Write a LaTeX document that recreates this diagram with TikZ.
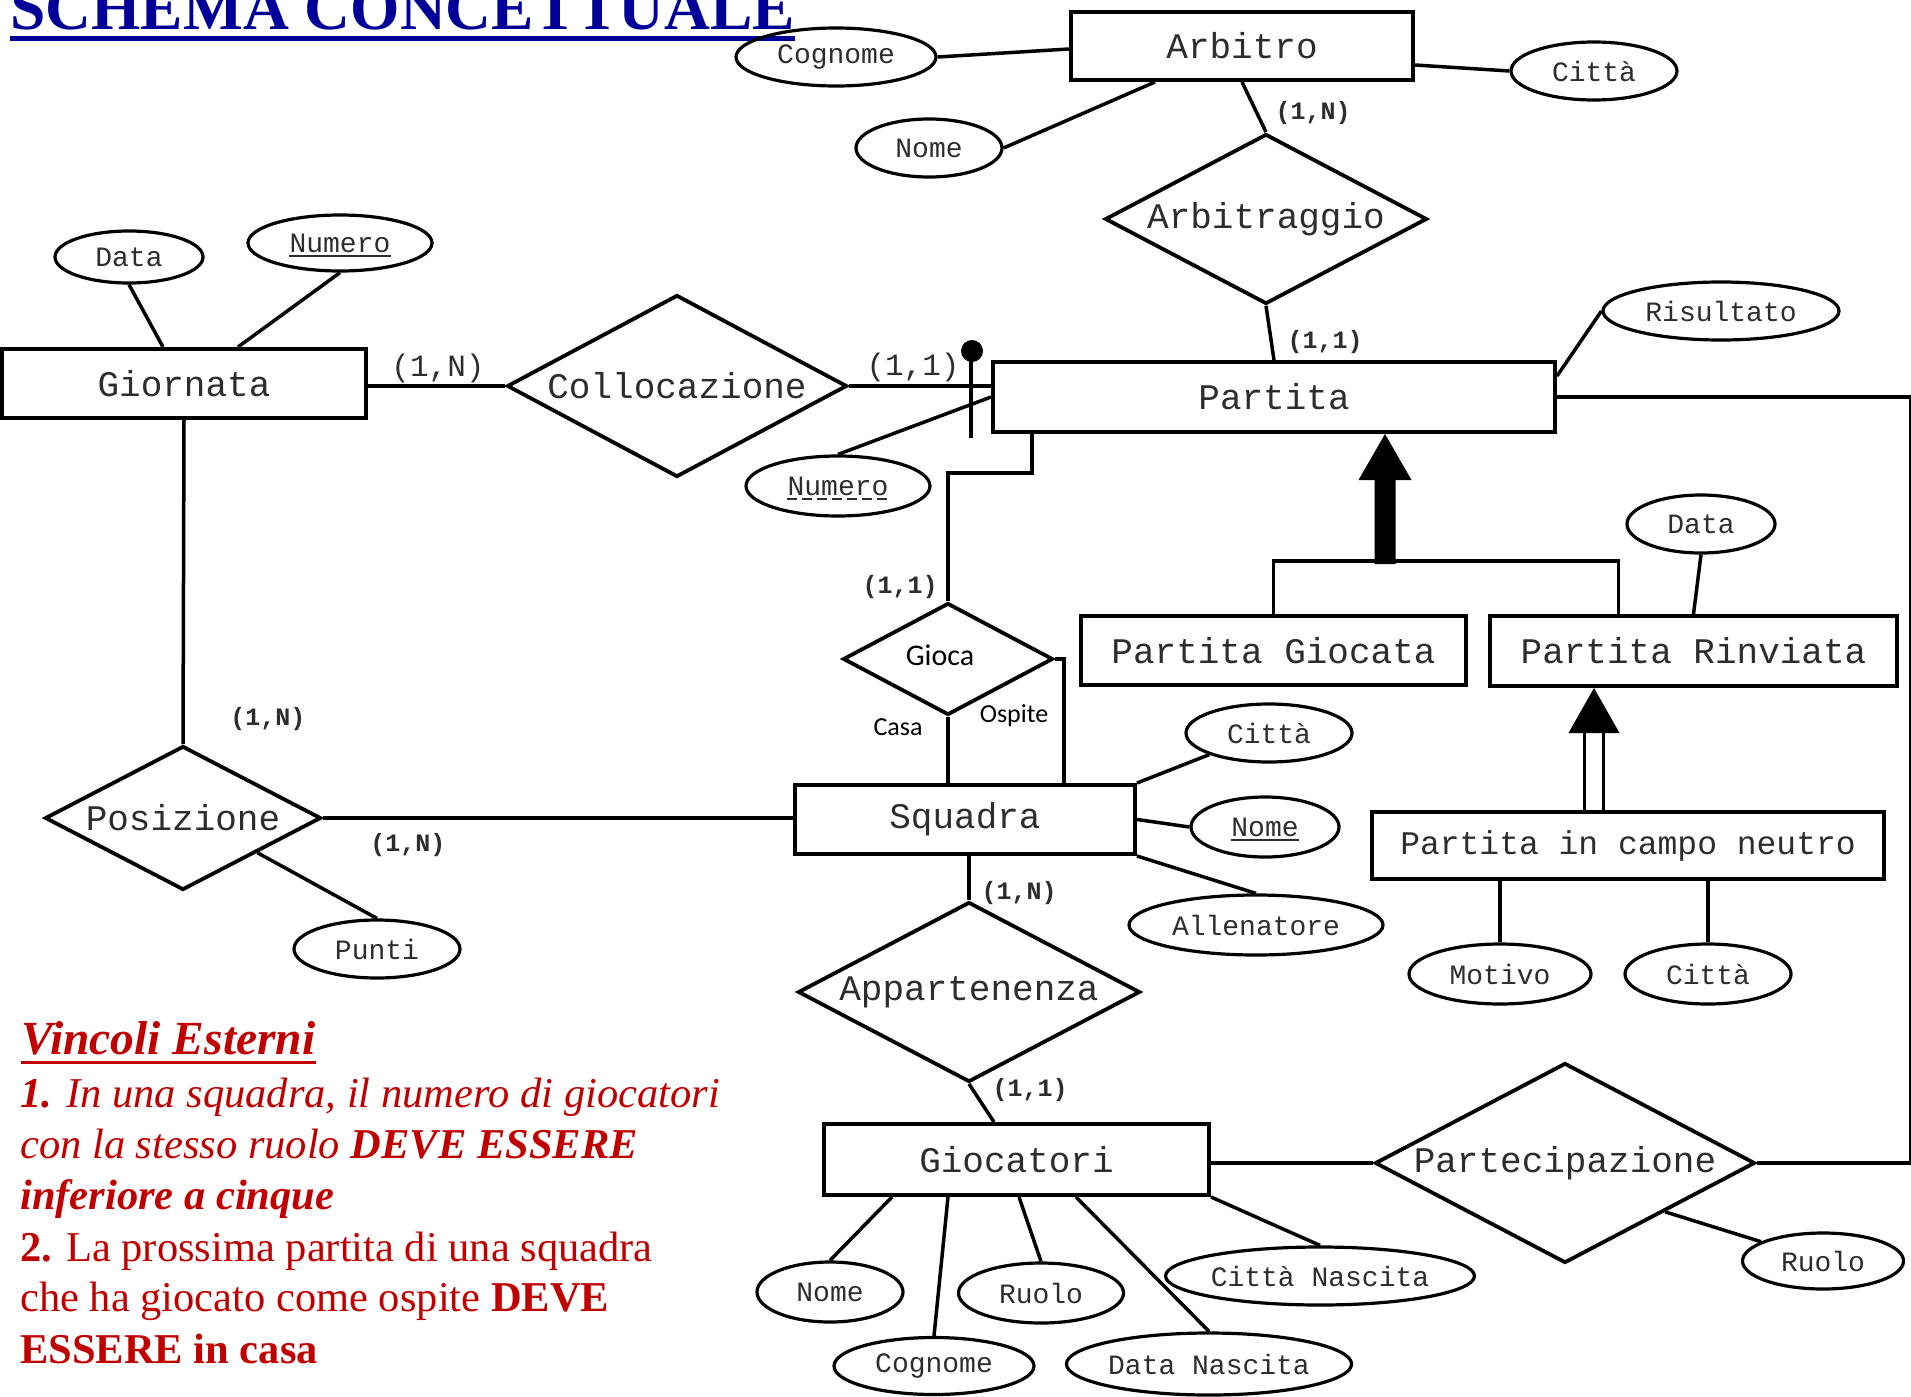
\documentclass[tikz,border=0pt]{standalone}
\usepackage{fontspec}
\setmainfont{Liberation Serif}
\newfontfamily\ermono{Liberation Mono}
\newfontfamily\ersans{Carlito}
\usetikzlibrary{shapes.geometric}
\definecolor{titleblue}{RGB}{0,0,153}
\definecolor{vred}{RGB}{192,0,0}
\definecolor{ertext}{RGB}{45,45,45}
\begin{document}
\begin{tikzpicture}[x=1pt,y=-1pt,
  ent/.style={draw, line width=4pt, rectangle, inner sep=0pt, text=ertext, font=\ermono\fontsize{36}{36}\selectfont},
  rel/.style={draw, line width=3.8pt, diamond, inner sep=0pt, text=ertext, font=\ermono\fontsize{36}{36}\selectfont},
  attr/.style={draw, line width=3.2pt, ellipse, inner sep=0pt, text=ertext, font=\ermono\fontsize{28}{28}\selectfont},
  conn/.style={line width=3.5pt},
  card/.style={inner sep=0pt, text=ertext, font=\ermono\bfseries\fontsize{25}{25}\selectfont},
  bigcard/.style={inner sep=0pt, text=ertext, font=\ermono\fontsize{31}{31}\selectfont},
  role/.style={inner sep=0pt, anchor=base, font=\ersans\fontsize{26}{26}\selectfont},
  vline/.style={anchor=base west, inner sep=0pt, text=vred, font=\fontsize{42.5}{51}\selectfont},
]
\useasboundingbox (0,0) rectangle (1911,1397);

% title
\node[anchor=base west, inner sep=0pt, text=titleblue, font=\bfseries\fontsize{63.5}{63.5}\selectfont] (title) at (10,30) {SCHEMA CONCETTUALE};
\draw[titleblue, line width=5pt] ([yshift=-9pt]title.base west) -- ([yshift=-9pt]title.base east);

% entities
\node[ent, minimum width=342pt, minimum height=68pt] (arb) at (1242,46) {Arbitro};
\node[ent, minimum width=364pt, minimum height=69pt] (gio) at (184,383.5) {Giornata};
\node[ent, minimum width=562pt, minimum height=70pt] (par) at (1274,397) {Partita};
\node[ent, minimum width=385pt, minimum height=69pt] (pg) at (1273.5,650.5) {Partita Giocata};
\node[ent, minimum width=407pt, minimum height=70pt] (pr) at (1693.5,651) {Partita Rinviata};
\node[ent, minimum width=512pt, minimum height=67pt, font=\ermono\fontsize{33}{33}\selectfont] (pn) at (1628,845.5) {Partita in campo neutro};
\node[ent, minimum width=340pt, minimum height=69pt] (sq) at (965,819.5) {Squadra};
\node[ent, minimum width=385pt, minimum height=71pt] (gc) at (1016.5,1159.5) {Giocatori};

% relationships
\node[rel, shape aspect=1.89, minimum width=322pt, minimum height=170pt] (arbg) at (1266,219) {Arbitraggio};
\node[rel, shape aspect=1.87, minimum width=340pt, minimum height=182pt] (coll) at (677,386) {Collocazione};
\node[rel, minimum width=210pt, minimum height=112pt] (gioca) at (948,659) {};
\node[role, font=\ersans\fontsize{30}{30}\selectfont] (giocat) at (940,665) {Gioca};
\node[rel, shape aspect=1.92, minimum width=276pt, minimum height=144pt] (pos) at (183,818) {Posizione};
\node[rel, shape aspect=1.9, minimum width=342pt, minimum height=180pt] (app) at (969,992) {Appartenenza};
\node[rel, shape aspect=1.9, minimum width=380pt, minimum height=200pt] (part) at (1565,1163) {Partecipazione};

% attributes
\node[attr, minimum width=200pt, minimum height=58pt] (cogA) at (836,57) {Cognome};
\node[attr, minimum width=146pt, minimum height=58pt] (nomeA) at (929,148) {Nome};
\node[attr, minimum width=166pt, minimum height=58pt] (cittaA) at (1594,71) {Città};
\node[attr, minimum width=148pt, minimum height=52pt] (dataG) at (129,257) {Data};
\node[attr, minimum width=184pt, minimum height=56pt] (numG) at (340,243) {Numero};
\node[attr, minimum width=184pt, minimum height=60pt] (numP) at (838,486) {Numero};
\node[attr, minimum width=236pt, minimum height=58pt] (ris) at (1721,311) {Risultato};
\node[attr, minimum width=148pt, minimum height=58pt] (dataR) at (1701,524) {Data};
\node[attr, minimum width=166pt, minimum height=58pt] (cittaS) at (1269,733) {Città};
\node[attr, minimum width=148pt, minimum height=60pt] (nomeS) at (1265,827) {Nome};
\node[attr, minimum width=254pt, minimum height=60pt] (all) at (1256,925) {Allenatore};
\node[attr, minimum width=182pt, minimum height=60pt] (mot) at (1500,974) {Motivo};
\node[attr, minimum width=166pt, minimum height=60pt] (cittaN) at (1708,974) {Città};
\node[attr, minimum width=166pt, minimum height=58pt] (punti) at (377,949) {Punti};
\node[attr, minimum width=161pt, minimum height=56pt] (ruoloP) at (1823,1261) {Ruolo};
\node[attr, minimum width=146pt, minimum height=60pt] (nomeG) at (830,1292) {Nome};
\node[attr, minimum width=200pt, minimum height=57pt] (cogG) at (934,1366) {Cognome};
\node[attr, minimum width=165pt, minimum height=60pt] (ruoloG) at (1041,1293) {Ruolo};
\node[attr, minimum width=285pt, minimum height=62pt] (dataN) at (1209,1364) {Data Nascita};
\node[attr, minimum width=303pt, minimum height=58pt] (cittaNas) at (1320,1276) {Città Nascita};

% key underlines
\draw[line width=2.5pt, ertext] ([xshift=-51pt,yshift=-4pt]numG.base) -- ([xshift=51pt,yshift=-4pt]numG.base);
\draw[line width=2.5pt, ertext] ([xshift=-34pt,yshift=-4pt]nomeS.base) -- ([xshift=34pt,yshift=-4pt]nomeS.base);
\draw[line width=2.5pt, ertext, dash pattern=on 10pt off 5pt] ([xshift=-51pt,yshift=-4pt]numP.base) -- ([xshift=51pt,yshift=-4pt]numP.base);

% Arbitro
\draw[conn] (cogA.east) -- ([yshift=-3pt]arb.west);
\draw[conn] ([xshift=-87pt]arb.south) -- (nomeA.east);
\draw[conn] ([yshift=-19pt]arb.east) -- (cittaA.west);
\draw[conn] (arb.south) -- (arbg.north);
\draw[conn] (arbg.south) -- (par.north);
\node[card] (carb) at (1313,113) {(1,N)};
\node[card] (carbp) at (1325,342) {(1,1)};

% Partita attributes and identifier
\draw[conn] ([yshift=-16pt]par.north east) -- (ris.west);
\draw[conn] (par.west) -- (numP.north);
\draw[conn] ([xshift=-20pt,yshift=40pt]par.west) -- ([xshift=-20pt,yshift=-41pt]par.west);
\fill ([xshift=-19pt,yshift=46pt]par.west) circle (11pt);

% Collocazione
\draw[conn] ([yshift=-2.5pt]gio.east) -- (coll.west);
\draw[conn] (coll.east) -- ([yshift=11pt]par.west);
\node[bigcard] (cgc) at (438,368) {(1,N)};
\node[bigcard] (ccp) at (913,367) {(1,1)};

% Giornata attributes
\draw[conn] (dataG.south) -- ([xshift=-21pt]gio.north);
\draw[conn] (numG.south) -- ([xshift=54pt]gio.north);

% Gioca
\draw[conn] ([xshift=-242pt]par.south) -- ++(0,39) -| (gioca.north);
\draw[conn] (gioca.south) -- (gioca.south |- sq.north);
\draw[conn] (gioca.east) -| ([xshift=99pt]sq.north);
\node[card] (cgioca) at (900,587) {(1,1)};
\node[role] (casa) at (898,735) {Casa};
\node[role] (ospite) at (1014,722) {Ospite};

% Posizione
\draw[conn] (gio.south) -- (pos.north);
\node[card] (cgp) at (268,719) {(1,N)};
\draw[conn] (pos.east) -- (pos.east -| sq.west);
\node[card] (cps) at (408,845) {(1,N)};
\draw[conn] (pos.-25) -- (punti.north);

% Squadra
\draw[conn] (sq.north east) -- (cittaS.south west);
\draw[conn] (sq.east) -- (nomeS.west);
\draw[conn] (sq.south east) -- (all.north);
\draw[conn] (app.north |- sq.south) -- (app.north);
\node[card] (csa) at (1019,893) {(1,N)};
\draw[conn] (app.south) -- ([xshift=-22.5pt]gc.north);
\node[card] (cag) at (1030,1090) {(1,1)};

% Giocatori
\draw[conn] (part.west -| gc.east) -- (part.west);
\draw[conn] (part.east) -- ++(154,0) |- (par.east);
\draw[conn] (part.-26) -- (ruoloP);
\draw[conn] ([xshift=-124.5pt]gc.south) -- (nomeG.north);
\draw[conn] ([xshift=-68.5pt]gc.south) -- (cogG.north);
\draw[conn] ([xshift=2.5pt]gc.south) -- (ruoloG.north);
\draw[conn] ([xshift=59.5pt]gc.south) -- (dataN.north);
\draw[conn] (gc.south east) -- (cittaNas.north);

% Partita Rinviata / neutro attributes
\draw[conn] (dataR.south) -- (pr.north);
\draw[conn] (mot.north |- pn.south) -- (mot.north);
\draw[conn] (cittaN.north |- pn.south) -- (cittaN.north);

% generalizations
\draw[conn] (pg.north) -- ++(0,-53) -| ([xshift=-75pt]pr.north);
\coordinate (gtip) at ([xshift=111pt]par.south);
\fill (gtip) -- ++(26.5,46) -- ++(-16,0) -- ++(0,84) -- ++(-21,0) -- ++(0,-84) -- ++(-16,0) -- cycle;
\coordinate (gtip2) at ([xshift=-99.5pt]pr.south);
\fill (gtip2) -- ++(25.5,45) -- ++(-51,0) -- cycle;
\coordinate (dl) at ([xshift=-9.5pt,yshift=-44pt]gtip2);
\coordinate (dr) at ([xshift=9.5pt,yshift=-44pt]gtip2);
\draw[conn] (dl) -- (dl |- pn.north);
\draw[conn] (dr) -- (dr |- pn.north);

% external constraints
\node[vline, font=\bfseries\itshape\fontsize{47.5}{51}\selectfont] (vtitle) at (21,1054) {Vincoli Esterni};
\draw[vred, line width=3pt] ([yshift=-8pt]vtitle.base west) -- ([yshift=-8pt]vtitle.base east);
\node[vline] (c1) at (20,1107) {\textbf{\textit{1.}} \textit{In una squadra, il numero di giocatori}};
\node[vline] (c2) at (20,1158) {\textit{con la stesso ruolo} \textbf{\textit{DEVE ESSERE}}};
\node[vline] (c3) at (20,1209) {\textbf{\textit{inferiore a cinque}}};
\node[vline] (c4) at (20,1261) {\textbf{2.} La prossima partita di una squadra};
\node[vline] (c5) at (20,1311) {che ha giocato come ospite \textbf{DEVE}};
\node[vline] (c6) at (20,1363) {\textbf{ESSERE in casa}};
\end{tikzpicture}
\end{document}
